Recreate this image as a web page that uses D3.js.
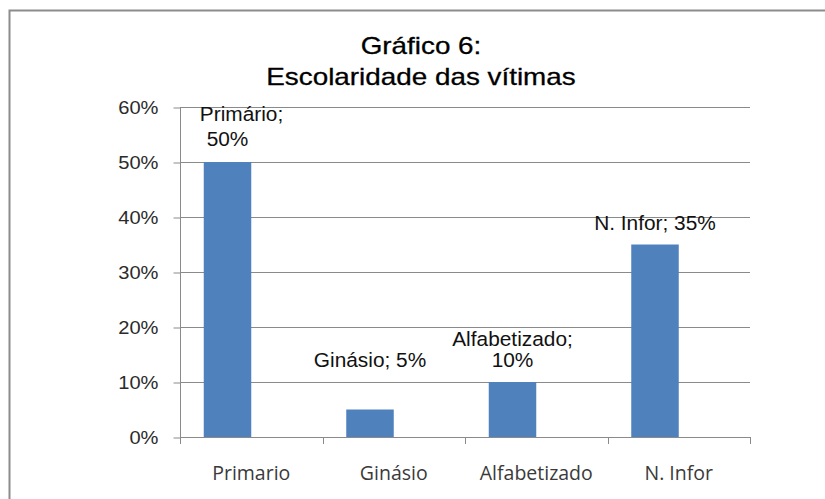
<!DOCTYPE html>
<html><head><meta charset="utf-8">
<script src="https://cdn.jsdelivr.net/npm/d3@7"></script>
<style>body{margin:0;background:#fff}svg{display:block}</style>
</head><body>
<script>
const categories = ["Primario", "Ginásio", "Alfabetizado", "N. Infor"];
const labelNames = ["Primário", "Ginásio", "Alfabetizado", "N. Infor"];
const values = [0.50, 0.05, 0.10, 0.35];
const yTicks = [0, 0.1, 0.2, 0.3, 0.4, 0.5, 0.6];
const titleLines = ["Gráfico 6:", "Escolaridade das vítimas"];

// label layout (not data): wrapped?, baseline offset of last line above bar, line gap, x shift of first line
const labelLayout = [
  {wrap: true,  off: 16,   gap: 25, dx1: 14},
  {wrap: false, off: 42.5, gap: 0,  dx1: 0},
  {wrap: true,  off: 15,   gap: 21, dx1: 0},
  {wrap: false, off: 14.5, gap: 0,  dx1: 0}
];

const W = 825, H = 499;
const svg = d3.select("body").append("svg").attr("width", W).attr("height", H);

// outer chart frame (extends beyond the picture right/bottom)
svg.append("rect").attr("x", 9.5).attr("y", 10.5).attr("width", 840).attr("height", 520)
  .attr("fill", "none").attr("stroke", "#8c8c8c").attr("stroke-width", 2);

const x0 = 180, x1 = 750, yTop = 107, yBot = 437;
const x = d3.scaleBand().domain(categories).range([x0, x1]);
const y = d3.scaleLinear().domain([0, 0.6]).range([yBot, yTop]);
const gridC = "#8a8a8a";

// gridlines
svg.append("g").selectAll("line").data(yTicks.slice(1)).join("line")
  .attr("x1", x0).attr("x2", x1)
  .attr("y1", d => Math.round(y(d)) + 0.5).attr("y2", d => Math.round(y(d)) + 0.5)
  .attr("stroke", gridC).attr("stroke-width", 1);

// y axis
const yAxis = d3.axisLeft(y).tickValues(yTicks).tickFormat(d3.format(".0%")).tickSize(7).tickPadding(15);
const gy = svg.append("g").attr("transform", `translate(${x0 + 0.5},0.5)`).call(yAxis);
gy.select(".domain").attr("stroke", gridC).attr("d", `M0,${yTop}V${yBot}`);
gy.selectAll(".tick line").attr("stroke", gridC);
gy.selectAll(".tick text").attr("font-family", "Liberation Sans, Arial, sans-serif")
  .attr("font-size", 19).attr("fill", "#2a2a2a")
  .attr("transform", "translate(-22,0) scale(1.06,1)").attr("x", 0);

// x axis
const xAxis = d3.axisBottom(x).tickSize(0).tickPadding(0);
const gx = svg.append("g").attr("transform", `translate(0,${yBot + 0.5})`).call(xAxis);
gx.select(".domain").attr("stroke", gridC).attr("d", `M${x0},0H${x1}`);
gx.selectAll(".tick text").attr("font-family", "Open Sans, sans-serif")
  .attr("font-size", 19.5).attr("fill", "#3a3a3a").attr("y", 42).attr("dy", 0);
// category boundary ticks
const bounds = categories.map(c => x(c)).concat([x1]);
svg.append("g").selectAll("line").data(bounds).join("line")
  .attr("x1", d => Math.round(d) + 0.5).attr("x2", d => Math.round(d) + 0.5)
  .attr("y1", yBot).attr("y2", yBot + 7).attr("stroke", gridC);

// bars: first of two series slots, the bar ends at band centre
const bw = x.bandwidth() / 3;
svg.append("g").selectAll("rect").data(values).join("rect")
  .attr("x", (d, i) => x(categories[i]) + x.bandwidth() / 2 - bw)
  .attr("width", bw)
  .attr("y", d => y(d))
  .attr("height", d => yBot - y(d))
  .attr("fill", "#4f81bd");

// data labels (slightly widened glyphs as in the reference)
const fmt = d3.format(".0%");
const sxL = 1.07;
const lbl = svg.append("g").attr("font-family", "Liberation Sans, Arial, sans-serif")
  .attr("font-size", 19.5).attr("fill", "#111").attr("text-anchor", "middle");
function put(tx, ty, s) {
  lbl.append("text").attr("transform", `translate(${tx},${ty}) scale(${sxL},1)`).text(s);
}
values.forEach((v, i) => {
  const L = labelLayout[i];
  const cx = x(categories[i]) + x.bandwidth() / 2 - bw / 2;
  const base = y(v) - L.off;
  if (L.wrap) {
    put(cx + L.dx1, base - L.gap, labelNames[i] + ";");
    put(cx, base, fmt(v));
  } else {
    put(cx, base, labelNames[i] + "; " + fmt(v));
  }
});

// title
svg.append("g").attr("font-family", "Liberation Sans, Arial, sans-serif")
  .attr("font-size", 24).attr("fill", "#000").attr("stroke", "#000").attr("stroke-width", 0.3)
  .attr("text-anchor", "middle")
  .selectAll("text").data(titleLines).join("text")
  .attr("transform", (d, i) => `translate(421,${54 + i * 31}) scale(1.16,1)`)
  .text(d => d);
</script>
</body></html>
